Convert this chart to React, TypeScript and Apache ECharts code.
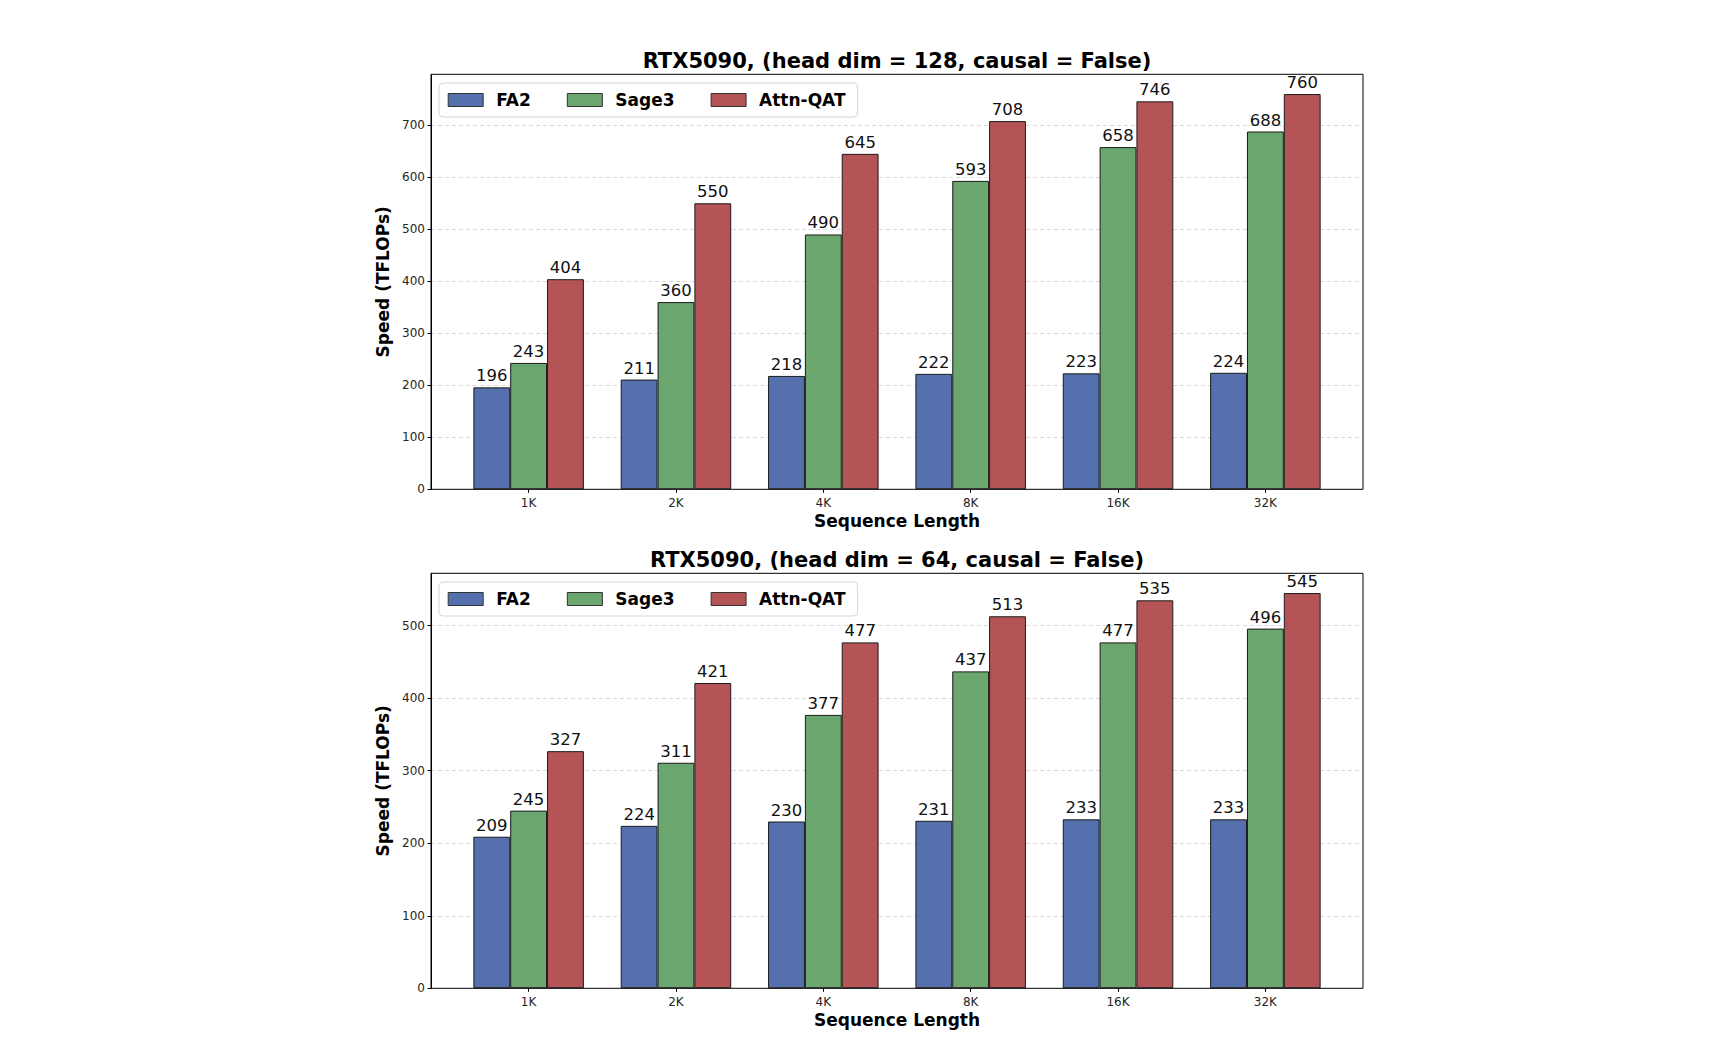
import React, { useEffect, useRef } from "react";
import * as echarts from "echarts";

const categories = ["1K", "2K", "4K", "8K", "16K", "32K"];
const seriesNames = ["FA2", "Sage3", "Attn-QAT"];
const colors = ["#5571AD", "#6AA66E", "#B55456"];

// head dim = 128
const fa2Dim128 = [196, 211, 218, 222, 223, 224];
const sage3Dim128 = [243, 360, 490, 593, 658, 688];
const attnQatDim128 = [404, 550, 645, 708, 746, 760];

// head dim = 64
const fa2Dim64 = [209, 224, 230, 231, 233, 233];
const sage3Dim64 = [245, 311, 377, 437, 477, 496];
const attnQatDim64 = [327, 421, 477, 513, 535, 545];

const titles = [
  "RTX5090, (head dim = 128, causal = False)",
  "RTX5090, (head dim = 64, causal = False)",
];

const FONT = "DejaVu Sans";

// panel geometry (px)
const FRAME_LEFT = 431;
const FRAME_WIDTH = 932;
const PANEL_HEIGHT = 415;
const PANEL_TOPS = [74.3, 573.3];
const UNIT = FRAME_WIDTH / 6.325; // one category step
const BAR_LEFT = FRAME_LEFT + 0.6625 * UNIT - 0.5 * UNIT;
const BAR_WIDTH = 6 * UNIT;

function buildOption() {
  const panels = [
    [fa2Dim128, sage3Dim128, attnQatDim128],
    [fa2Dim64, sage3Dim64, attnQatDim64],
  ];
  const maxima = panels.map((p) => Math.max(...p.flat()) * 1.05);

  const grid: any[] = [];
  const xAxis: any[] = [];
  const yAxis: any[] = [];
  const series: any[] = [];
  const legend: any[] = [];
  const graphic: any[] = [];

  panels.forEach((panel, p) => {
    const top = PANEL_TOPS[p];
    // frame grid: y axis and dashed grid lines
    grid.push({
      left: FRAME_LEFT,
      top,
      width: FRAME_WIDTH,
      height: PANEL_HEIGHT,
    });
    // bar grid: category bands
    grid.push({
      left: BAR_LEFT,
      top,
      width: BAR_WIDTH,
      height: PANEL_HEIGHT,
    });
    const gFrame = p * 2;
    const gBar = p * 2 + 1;

    xAxis.push({ type: "value", gridIndex: gFrame, show: false, min: 0, max: 1 });
    xAxis.push({
      type: "category",
      gridIndex: gBar,
      data: categories,
      axisLine: { show: false },
      axisTick: { show: true, alignWithLabel: true, length: 3.5, lineStyle: { color: "#000", width: 1 } },
      axisLabel: { fontFamily: FONT, fontSize: 12, color: "#262626", margin: 8 },
      name: "Sequence Length",
      nameLocation: "middle",
      nameGap: 23,
      nameTextStyle: { fontFamily: FONT, fontSize: 17, fontWeight: "bold", color: "#000" },
    });

    yAxis.push({
      type: "value",
      gridIndex: gFrame,
      min: 0,
      max: maxima[p],
      interval: 100,
      axisLine: { show: true, lineStyle: { color: "#000", width: 1 } },
      axisTick: { show: true, length: 3.5, lineStyle: { color: "#000", width: 1 } },
      axisLabel: {
        fontFamily: FONT,
        fontSize: 12,
        color: "#262626",
        margin: 6,
        showMaxLabel: false,
        formatter: (v: number) => (v % 100 === 0 ? String(v) : ""),
      },
      splitLine: {
        show: true,
        showMinLine: false,
        showMaxLine: false,
        lineStyle: { color: "#cfcfcf", width: 0.8, type: [4, 3] },
      },
      name: "Speed (TFLOPs)",
      nameLocation: "middle",
      nameGap: 35,
      nameTextStyle: { fontFamily: FONT, fontSize: 17, fontWeight: "bold", color: "#000" },
    });
    yAxis.push({ type: "value", gridIndex: gBar, show: false, min: 0, max: maxima[p] });

    panel.forEach((values, s) => {
      series.push({
        type: "bar",
        name: seriesNames[s],
        xAxisIndex: gBar,
        yAxisIndex: gBar,
        data: values,
        barWidth: "25%",
        barGap: "0%",
        itemStyle: { color: colors[s], borderColor: "#1a1a1a", borderWidth: 1 },
        label: {
          show: true,
          position: "top",
          distance: 3,
          fontFamily: FONT,
          fontSize: 16.5,
          color: "#111",
        },
        z: 3,
      });
    });

    legend.push({
      left: 439,
      top: top + 8.7,
      orient: "horizontal",
      data: seriesNames,
      icon: "rect",
      itemWidth: 35,
      itemHeight: 13,
      itemGap: 36,
      padding: [8.5, 12, 8.5, 8.7],
      backgroundColor: "rgba(255,255,255,0.85)",
      borderColor: "#d6d6d6",
      borderWidth: 1,
      borderRadius: 4,
      selectedMode: false,
      itemStyle: { borderColor: "#333", borderWidth: 1 },
      textStyle: { fontFamily: FONT, fontSize: 17, fontWeight: "bold", color: "#000", padding: [0, 0, 0, 8] },
      z: 5,
    });

    // axes frame drawn above the grid lines
    graphic.push({
      type: "rect",
      shape: { x: FRAME_LEFT, y: top, width: FRAME_WIDTH, height: PANEL_HEIGHT },
      style: { fill: "none", stroke: "#000", lineWidth: 1 },
      silent: true,
      z: 4,
    });

    graphic.push({
      type: "text",
      x: FRAME_LEFT + FRAME_WIDTH / 2,
      y: top - 13.3,
      style: {
        text: titles[p],
        fontFamily: FONT,
        fontSize: 21,
        fontWeight: "bold",
        fill: "#000",
        textAlign: "center",
        textVerticalAlign: "middle",
      },
    });
  });

  return {
    animation: false,
    backgroundColor: "#fff",
    textStyle: { fontFamily: FONT },
    grid,
    xAxis,
    yAxis,
    series,
    legend,
    graphic,
  };
}

export default function App() {
  const ref = useRef<HTMLDivElement>(null);
  useEffect(() => {
    if (!ref.current) return;
    const chart = echarts.init(ref.current, undefined, { renderer: "svg" });
    chart.setOption(buildOption());
    return () => chart.dispose();
  }, []);
  return (
    <div
      ref={ref}
      style={{ position: "fixed", left: 0, top: 0, width: 1726, height: 1060, background: "#fff" }}
    />
  );
}
